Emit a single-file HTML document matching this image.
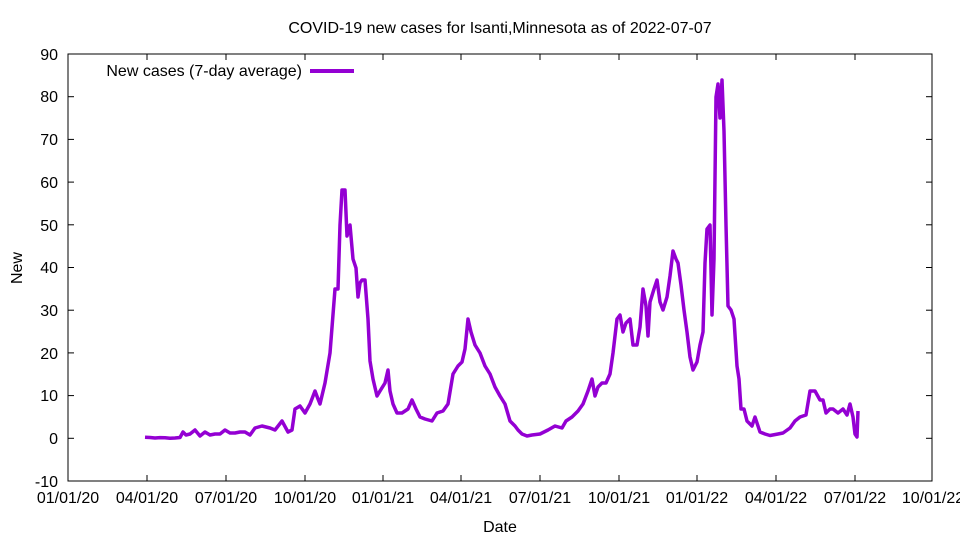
<!DOCTYPE html>
<html><head><style>body{margin:0;background:#fff}svg{display:block}text{font-family:"Liberation Sans",sans-serif;font-size:16px;fill:#000}</style></head>
<body>
<svg width="960" height="540" viewBox="0 0 960 540" xmlns="http://www.w3.org/2000/svg">
<rect x="68" y="54" width="864" height="427" fill="none" stroke="#000" stroke-width="1"/>
<g stroke="#000" stroke-width="1">
<line x1="68" y1="481" x2="74" y2="481"/><line x1="932" y1="481" x2="926" y2="481"/>
<line x1="68" y1="438.3" x2="74" y2="438.3"/><line x1="932" y1="438.3" x2="926" y2="438.3"/>
<line x1="68" y1="395.6" x2="74" y2="395.6"/><line x1="932" y1="395.6" x2="926" y2="395.6"/>
<line x1="68" y1="352.9" x2="74" y2="352.9"/><line x1="932" y1="352.9" x2="926" y2="352.9"/>
<line x1="68" y1="310.2" x2="74" y2="310.2"/><line x1="932" y1="310.2" x2="926" y2="310.2"/>
<line x1="68" y1="267.5" x2="74" y2="267.5"/><line x1="932" y1="267.5" x2="926" y2="267.5"/>
<line x1="68" y1="224.8" x2="74" y2="224.8"/><line x1="932" y1="224.8" x2="926" y2="224.8"/>
<line x1="68" y1="182.1" x2="74" y2="182.1"/><line x1="932" y1="182.1" x2="926" y2="182.1"/>
<line x1="68" y1="139.4" x2="74" y2="139.4"/><line x1="932" y1="139.4" x2="926" y2="139.4"/>
<line x1="68" y1="96.7" x2="74" y2="96.7"/><line x1="932" y1="96.7" x2="926" y2="96.7"/>
</g>
<g stroke="#000" stroke-width="1">
<line x1="147" y1="481" x2="147" y2="475"/><line x1="147" y1="54" x2="147" y2="60"/>
<line x1="226" y1="481" x2="226" y2="475"/><line x1="226" y1="54" x2="226" y2="60"/>
<line x1="305" y1="481" x2="305" y2="475"/><line x1="305" y1="54" x2="305" y2="60"/>
<line x1="383" y1="481" x2="383" y2="475"/><line x1="383" y1="54" x2="383" y2="60"/>
<line x1="461" y1="481" x2="461" y2="475"/><line x1="461" y1="54" x2="461" y2="60"/>
<line x1="540" y1="481" x2="540" y2="475"/><line x1="540" y1="54" x2="540" y2="60"/>
<line x1="619" y1="481" x2="619" y2="475"/><line x1="619" y1="54" x2="619" y2="60"/>
<line x1="697" y1="481" x2="697" y2="475"/><line x1="697" y1="54" x2="697" y2="60"/>
<line x1="776" y1="481" x2="776" y2="475"/><line x1="776" y1="54" x2="776" y2="60"/>
<line x1="855" y1="481" x2="855" y2="475"/><line x1="855" y1="54" x2="855" y2="60"/>
</g>
<g text-anchor="end">
<text x="58" y="487">-10</text><text x="58" y="444">0</text><text x="58" y="401">10</text><text x="58" y="359">20</text><text x="58" y="316">30</text><text x="58" y="273">40</text><text x="58" y="231">50</text><text x="58" y="188">60</text><text x="58" y="145">70</text><text x="58" y="102">80</text><text x="58" y="60">90</text>
</g>
<g text-anchor="middle">
<text x="68" y="503">01/01/20</text><text x="147" y="503">04/01/20</text><text x="226" y="503">07/01/20</text><text x="305" y="503">10/01/20</text><text x="383" y="503">01/01/21</text><text x="461" y="503">04/01/21</text><text x="540" y="503">07/01/21</text><text x="619" y="503">10/01/21</text><text x="697" y="503">01/01/22</text><text x="776" y="503">04/01/22</text><text x="855" y="503">07/01/22</text><text x="933" y="503">10/01/22</text>
<text x="500" y="532">Date</text>
<text x="500" y="33">COVID-19 new cases for Isanti,Minnesota as of 2022-07-07</text>
<text x="22" y="268" transform="rotate(-90 22 268)">New</text>
</g>
<text x="302" y="76" text-anchor="end">New cases (7-day average)</text>
<line x1="310" y1="71" x2="354" y2="71" stroke="#9400d3" stroke-width="4"/>
<polyline fill="none" stroke="#9400d3" stroke-width="3.5" stroke-linejoin="round" points="
145,437.2 150,437.5 155,438 160,437.6 165,437.8 170,438.3 175,438 180,437.5 183,432 186,435 190,434 195,430 200,436 205,432 210,435 215,434 220,434 225,430 230,433 235,433 240,432 245,432 250,435 255,428 262,426 270,428 275,430 282,421 288,432 292,430 295,409 300,406 305,413 310,404 315,391 318,399 320,404 325,383 330,353 335,289 338,289 340,225 342,190 345,190 347,236 350,225 353,259 356,268 358,297 360,283 362,280 365,280 368,319 370,361 373,379 377,396 380,391 385,383 388,370 390,391 393,404 397,413 402,413 408,409 412,400 416,409 420,417 425,419 432,421 437,413 443,411 448,404 453,374 458,366 462,362 465,349 468,319 471,332 475,345 480,353 485,366 490,374 495,387 500,396 505,404 510,421 515,426 518,430 522,434 527,436 532,435 540,434 548,430 555,426 562,428 566,421 572,417 578,411 583,404 588,391 592,379 595,396 598,387 602,383 606,383 610,374 613,353 617,319 620,315 623,332 626,323 630,319 633,345 637,345 640,327 643,289 646,306 648,336 650,302 654,289 657,280 660,302 663,310 667,297 670,276 673,251 676,259 678,263 681,285 684,310 687,332 690,357 693,370 697,362 700,345 703,332 705,263 707,229 710,225 712,315 714,259 716,97 718,84 720,118 722,80 724,131 726,225 728,306 731,310 734,319 737,366 739,379 741,409 744,409 747,421 752,426 755,417 760,432 765,434 770,435.5 778,434 783,433 790,428 795,421 800,417 806,415 810,391 815,391 820,400 823,400 826,413 830,409 833,409 838,413 843,409 847,415 850,404 853,417 855,434 857,437 858,411"/>
</svg>
</body></html>
